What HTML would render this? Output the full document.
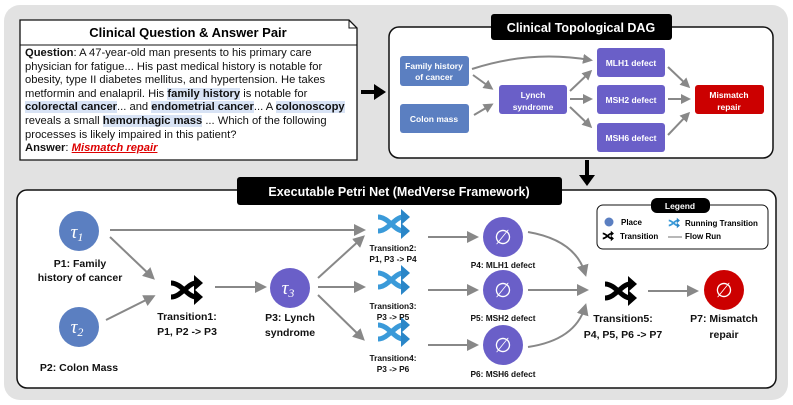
<!DOCTYPE html>
<html><head><meta charset="utf-8"><style>
body{margin:0;width:793px;height:405px;overflow:hidden;background:#fff;font-family:"Liberation Sans",Arial,sans-serif}
#qa{position:absolute;left:25px;top:47px;font-size:11.2px;line-height:13.6px;color:#111;white-space:nowrap}
.h{background:#d8e3f5;font-weight:bold}
</style></head><body>
<svg width="793" height="405" style="position:absolute;left:0;top:0" font-family="Liberation Sans, Arial, sans-serif">
<defs>
<marker id="a" markerWidth="10" markerHeight="10" refX="7" refY="5" orient="auto" markerUnits="userSpaceOnUse"><path d="M0,0 L10,5 L0,10 Z" fill="#888"/></marker>
<marker id="b" markerWidth="12" markerHeight="12" refX="8" refY="6" orient="auto" markerUnits="userSpaceOnUse"><path d="M0,0 L12,6 L0,12 Z" fill="#888"/></marker>
<g id="sh"><path d="M-15,-7 C-5,-7 2,7 10,7" fill="none" stroke-width="5"/><path d="M-15,7 C-5,7 2,-7 10,-7" fill="none" stroke-width="5"/><path d="M8,-15 L17,-7 L8,1 Z" stroke="none"/><path d="M8,-1 L17,7 L8,15 Z" stroke="none"/></g>
</defs>
<rect x="4" y="5" width="784" height="395" rx="16" fill="#e2e2e2"/>
<path d="M20,20 L349,20 L357,28 L357,160 L20,160 Z" fill="#fff" stroke="#111" stroke-width="1.3"/>
<path d="M349,20 L349,28 L357,28" fill="none" stroke="#111"/>
<line x1="20" y1="45" x2="357" y2="45" stroke="#111"/>
<text x="188" y="37" text-anchor="middle" font-size="13" font-weight="bold">Clinical Question &amp; Answer Pair</text>
<path d="M361,92 L376,92" stroke="#000" stroke-width="4"/><path d="M374,84 L386,92 L374,100 Z" fill="#000"/>
<rect x="389" y="27" width="384" height="131" rx="10" fill="#fff" stroke="#111" stroke-width="1.5"/>
<rect x="491" y="14" width="181" height="26" rx="3" fill="#000"/>
<text x="581" y="32" text-anchor="middle" font-size="12.5" font-weight="bold" fill="#fff">Clinical Topological DAG</text>
<g font-size="8.5" font-weight="bold" fill="#fff" text-anchor="middle">
<rect x="400" y="56" width="69" height="30" rx="3" fill="#5b7fc1"/><text x="434" y="69">Family history</text><text x="434" y="80">of cancer</text>
<rect x="400" y="104" width="69" height="29" rx="3" fill="#5b7fc1"/><text x="434" y="122">Colon mass</text>
<rect x="499" y="85" width="68" height="29" rx="3" fill="#6a5fc8"/><text x="533" y="98">Lynch</text><text x="533" y="110">syndrome</text>
<rect x="597" y="48" width="68" height="29" rx="3" fill="#6a5fc8"/><text x="631" y="66">MLH1 defect</text>
<rect x="597" y="85" width="68" height="29" rx="3" fill="#6a5fc8"/><text x="631" y="103">MSH2 defect</text>
<rect x="597" y="123" width="68" height="29" rx="3" fill="#6a5fc8"/><text x="631" y="141">MSH6 defect</text>
<rect x="695" y="85" width="69" height="29" rx="3" fill="#cc0000"/><text x="729" y="98">Mismatch</text><text x="729" y="110">repair</text>
</g>
<g stroke="#888" stroke-width="2" fill="none" marker-end="url(#a)">
<path d="M472,69 Q530,50 590,60"/><path d="M473,75 L491,88"/><path d="M474,115 L491,105"/>
<path d="M570,91 L590,72"/><path d="M570,99 L590,99"/><path d="M570,107 L590,126"/>
<path d="M668,67 L688,86"/><path d="M668,99 L688,99"/><path d="M668,135 L688,114"/>
</g>
<path d="M587,160 L587,176" stroke="#000" stroke-width="4"/><path d="M579,175 L587,186 L595,175 Z" fill="#000"/>
<rect x="17" y="190" width="759" height="198" rx="10" fill="#fff" stroke="#111" stroke-width="1.5"/>
<rect x="237" y="177" width="325" height="28" rx="3" fill="#000"/>
<text x="399" y="196" text-anchor="middle" font-size="12.5" font-weight="bold" fill="#fff">Executable Petri Net (MedVerse Framework)</text>
<g stroke="#888" stroke-width="2" fill="none" marker-end="url(#b)">
<path d="M110,230 L362,230"/><path d="M110,237 L152,277"/><path d="M106,320 L152,297"/>
<path d="M215,287 L263,287"/><path d="M318,278 L362,238"/><path d="M318,287 L362,287"/><path d="M318,295 L362,338"/>
<path d="M428,237 L475,237"/><path d="M428,290 L475,290"/><path d="M428,345 L475,345"/>
<path d="M528,232 Q575,240 585,273"/><path d="M528,290 L585,290"/><path d="M528,347 Q575,340 585,307"/>
<path d="M648,291 L695,291"/>
</g>
<g font-style="italic" font-family="Liberation Serif, serif" fill="#fff" text-anchor="middle">
<circle cx="79" cy="231" r="20" fill="#5b7fc1"/><text x="77" y="238" font-size="19">τ<tspan font-size="12" dy="3">1</tspan></text>
<circle cx="79" cy="327" r="20" fill="#5b7fc1"/><text x="77" y="333" font-size="19">τ<tspan font-size="12" dy="3">2</tspan></text>
<circle cx="290" cy="288" r="20" fill="#6a5fc8"/><text x="288" y="294" font-size="19">τ<tspan font-size="12" dy="3">3</tspan></text>
</g>
<g fill="#fff" font-size="20" text-anchor="middle">
<circle cx="503" cy="237" r="20" fill="#6a5fc8"/><text x="503" y="244">∅</text>
<circle cx="503" cy="290" r="20" fill="#6a5fc8"/><text x="503" y="297">∅</text>
<circle cx="503" cy="345" r="20" fill="#6a5fc8"/><text x="503" y="352">∅</text>
<circle cx="724" cy="290" r="20" fill="#cc0000"/><text x="724" y="297">∅</text>
</g>
<use href="#sh" x="186" y="290" stroke="#000" fill="#000"/>
<use href="#sh" x="620" y="291" stroke="#000" fill="#000"/>
<use href="#sh" x="393" y="224" stroke="#3a9ad9" fill="#2a86c8"/>
<use href="#sh" x="393" y="280" stroke="#3a9ad9" fill="#2a86c8"/>
<use href="#sh" x="393" y="332" stroke="#3a9ad9" fill="#2a86c8"/>
<g font-weight="bold" text-anchor="middle" fill="#111">
<g font-size="10.5"><text x="80" y="267">P1: Family</text><text x="80" y="281">history of cancer</text>
<text x="79" y="371">P2: Colon Mass</text>
<text x="187" y="320">Transition1:</text><text x="187" y="335">P1, P2 -&gt; P3</text>
<text x="290" y="321">P3: Lynch</text><text x="290" y="336">syndrome</text>
<text x="623" y="322">Transition5:</text><text x="623" y="338">P4, P5, P6 -&gt; P7</text>
<text x="724" y="322">P7: Mismatch</text><text x="724" y="338">repair</text></g>
<g font-size="8.3"><text x="393" y="251">Transition2:</text><text x="393" y="262">P1, P3 -&gt; P4</text>
<text x="393" y="309">Transition3:</text><text x="393" y="320">P3 -&gt; P5</text>
<text x="393" y="361">Transition4:</text><text x="393" y="372">P3 -&gt; P6</text>
<text x="503" y="268">P4: MLH1 defect</text><text x="503" y="321">P5: MSH2 defect</text><text x="503" y="377">P6: MSH6 defect</text></g>
</g>
<rect x="597" y="205" width="171" height="44" rx="6" fill="#fff" stroke="#111"/>
<rect x="651" y="198" width="59" height="15" rx="6" fill="#000"/>
<text x="680" y="209" text-anchor="middle" font-size="8.5" font-weight="bold" fill="#fff">Legend</text>
<circle cx="609" cy="222" r="4.5" fill="#5b7fc1"/>
<text x="621" y="225" font-size="8" font-weight="bold">Place</text>
<g transform="translate(674,223) scale(0.35)"><use href="#sh" stroke="#3a9ad9" fill="#2a86c8"/></g>
<text x="685" y="226" font-size="8" font-weight="bold">Running Transition</text>
<g transform="translate(608,236) scale(0.35)"><use href="#sh" stroke="#000" fill="#000"/></g>
<text x="620" y="239" font-size="8" font-weight="bold">Transition</text>
<line x1="668" y1="237" x2="682" y2="237" stroke="#888" stroke-width="1.2"/>
<text x="685" y="239" font-size="8" font-weight="bold">Flow Run</text>
</svg>
<div id="qa"><b>Question</b>: A 47-year-old man presents to his primary care<br>physician for fatigue... His past medical history is notable for<br>obesity, type II diabetes mellitus, and hypertension. He takes<br>metformin and enalapril. His <span class="h">family history</span> is notable for<br><span class="h">colorectal cancer</span>... and <span class="h">endometrial cancer</span>... A <span class="h">colonoscopy</span><br>reveals a small <span class="h">hemorrhagic mass</span> ... Which of the following<br>processes is likely impaired in this patient?<br><b>Answer</b>: <b style="color:#d00;font-style:italic;text-decoration:underline">Mismatch repair</b></div>
</body></html>
